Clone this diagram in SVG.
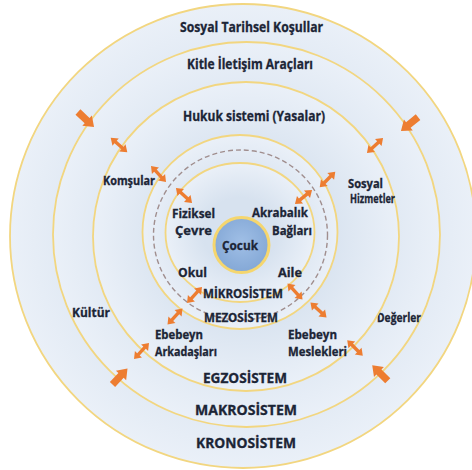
<svg xmlns="http://www.w3.org/2000/svg" width="472" height="470" viewBox="0 0 472 470">
  <defs>
    <radialGradient id="ringFill" cx="0.5" cy="0.5" r="0.5">
      <stop offset="0.5" stop-color="#d7e2ef"/>
      <stop offset="1" stop-color="#eaf0f8"/>
    </radialGradient>
    <radialGradient id="childFill" cx="0.5" cy="0.45" r="0.55">
      <stop offset="0" stop-color="#a0bfe6"/>
      <stop offset="1" stop-color="#84a8d6"/>
    </radialGradient>
    <!-- one-way block arrow, pointing along +x -->
    <polygon id="bigArrow" points="-11,-3.6 1.5,-3.6 1.5,-7 11,0 1.5,7 1.5,3.6 -11,3.6"/>
    <!-- two-way arrow, symmetric about the origin -->
    <polygon id="twoWay" points="-11,0 -4.5,-4.8 -4.5,-1.7 4.5,-1.7 4.5,-4.8 11,0 4.5,4.8 4.5,1.7 -4.5,1.7 -4.5,4.8"/>
  </defs>
  <style>
    .ring { fill: url(#ringFill); stroke: #f2d680; stroke-width: 1.8; }
    .dashed { fill: none; stroke: #a08e8e; stroke-width: 1.4; stroke-dasharray: 5 3; }
    .lbl { font-family: "Open Sans", Lato, "Liberation Sans", sans-serif; font-weight: 700; fill: #1c2536; stroke: #1c2536; stroke-width: 0.3; }
    .big { font-size: 13.5px; }
    .mid { font-size: 13px; }
    .small { font-size: 11.5px; }
    .arrow { fill: #ed7d31; }
  </style>

  <rect width="472" height="470" fill="#ffffff"/>

  <!-- layers, outermost first -->
  <g id="kronosistem">
    <ellipse class="ring" cx="243" cy="236" rx="233" ry="232"/>
    <text class="lbl big" x="196" y="448" textLength="100" lengthAdjust="spacingAndGlyphs">KRONOSİSTEM</text>
    <text class="lbl big" x="180" y="32" textLength="143" lengthAdjust="spacingAndGlyphs">Sosyal Tarihsel Koşullar</text>
  </g>

  <g id="makrosistem">
    <ellipse class="ring" cx="246.5" cy="234.5" rx="193.5" ry="192.5"/>
    <text class="lbl big" x="195" y="415" textLength="102" lengthAdjust="spacingAndGlyphs">MAKROSİSTEM</text>
    <text class="lbl big" x="187" y="69" textLength="126" lengthAdjust="spacingAndGlyphs">Kitle İletişim Araçları</text>
    <text class="lbl mid" x="72" y="317" textLength="38" lengthAdjust="spacingAndGlyphs">Kültür</text>
    <text class="lbl mid" x="377" y="322" textLength="44" lengthAdjust="spacingAndGlyphs">Değerler</text>
  </g>

  <g id="egzosistem">
    <ellipse class="ring" cx="246" cy="236.5" rx="153" ry="154.5"/>
    <text class="lbl big" x="203" y="383" textLength="84" lengthAdjust="spacingAndGlyphs">EGZOSİSTEM</text>
    <text class="lbl big" x="183" y="121" textLength="142" lengthAdjust="spacingAndGlyphs">Hukuk sistemi (Yasalar)</text>
    <text class="lbl small" x="103" y="185" textLength="52" lengthAdjust="spacingAndGlyphs">Komşular</text>
    <text class="lbl small" x="348" y="188" textLength="35" lengthAdjust="spacingAndGlyphs">Sosyal</text>
    <text class="lbl small" x="350" y="203" textLength="45" lengthAdjust="spacingAndGlyphs">Hizmetler</text>
    <text class="lbl small" x="155" y="339" textLength="48" lengthAdjust="spacingAndGlyphs">Ebebeyn</text>
    <text class="lbl small" x="155" y="356" textLength="62" lengthAdjust="spacingAndGlyphs">Arkadaşları</text>
    <text class="lbl small" x="288" y="339" textLength="49" lengthAdjust="spacingAndGlyphs">Ebebeyn</text>
    <text class="lbl small" x="288" y="356" textLength="59" lengthAdjust="spacingAndGlyphs">Meslekleri</text>
  </g>

  <g id="mezosistem">
    <ellipse class="ring" cx="240" cy="232" rx="97.5" ry="97"/>
    <ellipse class="dashed" cx="240.5" cy="235" rx="87" ry="85"/>
    <text class="lbl small" x="204" y="322" textLength="74" lengthAdjust="spacingAndGlyphs">MEZOSİSTEM</text>
  </g>

  <g id="mikrosistem">
    <ellipse class="ring" cx="240" cy="232.5" rx="74.5" ry="69.5" stroke-width="2.2"/>
    <text class="lbl small" x="203" y="298" textLength="80" lengthAdjust="spacingAndGlyphs">MİKROSİSTEM</text>
    <text class="lbl mid" x="172" y="218" textLength="43" lengthAdjust="spacingAndGlyphs">Fiziksel</text>
    <text class="lbl mid" x="175" y="235" textLength="37" lengthAdjust="spacingAndGlyphs">Çevre</text>
    <text class="lbl mid" x="252" y="217" textLength="56" lengthAdjust="spacingAndGlyphs">Akrabalık</text>
    <text class="lbl mid" x="272" y="235" textLength="40" lengthAdjust="spacingAndGlyphs">Bağları</text>
    <text class="lbl mid" x="178" y="277" textLength="29" lengthAdjust="spacingAndGlyphs">Okul</text>
    <text class="lbl mid" x="278" y="277" textLength="24" lengthAdjust="spacingAndGlyphs">Aile</text>
  </g>

  <g id="cocuk">
    <circle cx="241.5" cy="245" r="27.5" fill="url(#childFill)" stroke="#f5d66e" stroke-width="3"/>
    <text class="lbl mid" x="222" y="250" textLength="36" lengthAdjust="spacingAndGlyphs" fill="#1f3350" stroke="#1f3350">Çocuk</text>
  </g>

  <!-- influences between layers -->
  <g id="connectors" class="arrow">
    <use href="#bigArrow" transform="translate(86 119.5) rotate(43)"/>
    <use href="#bigArrow" transform="translate(409.5 124) rotate(141)"/>
    <use href="#bigArrow" transform="translate(120 376.5) rotate(-47)"/>
    <use href="#bigArrow" transform="translate(380 373) rotate(-135)"/>

    <use href="#twoWay" transform="translate(119 145) rotate(41)"/>
    <use href="#twoWay" transform="translate(375 145.5) rotate(-43)"/>
    <use href="#twoWay" transform="translate(158.5 174) rotate(47)"/>
    <use href="#twoWay" transform="translate(184 195.5) rotate(43)"/>
    <use href="#twoWay" transform="translate(327.5 179.5) rotate(-45)"/>
    <use href="#twoWay" transform="translate(303.5 197) rotate(-39)"/>
    <use href="#twoWay" transform="translate(194.5 295) rotate(-47)"/>
    <use href="#twoWay" transform="translate(295 291.5) rotate(47)"/>
    <use href="#twoWay" transform="translate(175 316.5) rotate(-47)"/>
    <use href="#twoWay" transform="translate(318.5 310) rotate(43)"/>
    <use href="#twoWay" transform="translate(141.5 351) rotate(-47)"/>
    <use href="#twoWay" transform="translate(355 348) rotate(45)"/>
  </g>
</svg>
